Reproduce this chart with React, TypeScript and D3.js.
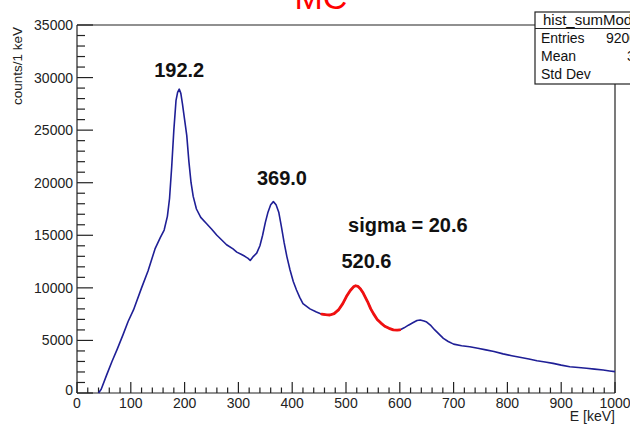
import React from "react";
import * as d3 from "d3";

// Spectrum (E [keV], counts per 1 keV)
const spectrumE = [40,45,55,65,75,86,95,105,120,132,145,155,162,168,172,176,180,184,187,190,193,196,200,204,208,212,216,222,230,241,250,260,270,278,290,297,305,312,318,322,328,334,340,345,350,355,360,365,370,375,380,385,390,396,402,408,414,420,433,445,455,462,470,478,486,494,501,508,514,518,522,527,532,540,546,551,558,565,572,580,588,595,600,608,616,625,632,638,645,650,658,665,673,681,690,700,715,730,745,760,775,792,808,823,840,855,870,885,900,916,932,947,962,978,990,1000];
const spectrumCounts = [0,350,1700,3000,4200,5600,6800,7900,10000,11600,13700,14800,15500,16800,18500,21500,25000,27800,28600,28900,28500,27500,26000,24500,22000,20000,18700,17500,16700,16100,15600,15000,14500,14100,13700,13400,13200,13000,12800,12600,13000,13300,14000,15000,16200,17200,17900,18200,17900,17200,15800,14300,13000,11700,10600,9800,9100,8500,8000,7700,7500,7450,7420,7550,7900,8500,9200,9750,10100,10200,10150,9900,9500,8700,8000,7550,7000,6650,6350,6150,6000,5980,6000,6200,6450,6700,6900,6950,6850,6750,6400,6000,5600,5200,4900,4650,4500,4400,4250,4100,3950,3720,3550,3400,3230,3070,2950,2820,2650,2500,2420,2350,2270,2190,2100,2030];

// Fit curve over the 520.6 keV peak
const fitE = [455,462,470,478,486,494,501,508,514,518,522,527,532,540,546,551,558,565,572,580,588,595,600];
const fitCounts = [7500,7450,7420,7550,7900,8500,9200,9750,10100,10200,10150,9900,9500,8700,8000,7550,7000,6650,6350,6150,6000,5980,6000];

// Peak annotations (text, anchor position in data units)
const annotText = ["192.2", "369.0", "sigma = 20.6", "520.6"];
const annotE = [190, 381, 615, 538];
const annotCounts = [30050, 19750, 15300, 11900];

const xTicks = [0,100,200,300,400,500,600,700,800,900,1000];
const yTicks = [0,5000,10000,15000,20000,25000,30000,35000];

const statLabels = ["Entries", "Mean", "Std Dev"];
const statValues = ["9200000", "345.7", ""];

export default function App() {
  const W = 630, H = 425;
  const x = d3.scaleLinear().domain([0, 1000]).range([77, 615]);
  const y = d3.scaleLinear().domain([0, 35000]).range([393, 25]);
  const specPts: [number, number][] = spectrumE.map((e, i) => [x(e), y(spectrumCounts[i])]);
  const fitPts: [number, number][] = fitE.map((e, i) => [x(e), y(fitCounts[i])]);
  const lg = d3.line();
  const specPath = lg(specPts) || "";
  const fitPath = lg(fitPts) || "";

  const minorX = d3.range(0, 1001, 20).filter((v) => v % 100 !== 0);
  const minorY = d3.range(0, 35001, 1000).filter((v) => v % 5000 !== 0);
  const font = "'Liberation Sans', Arial, sans-serif";
  const x0 = x(0), y0 = y(0), x1 = x(1000), yTop = y(35000);

  return (
    <svg width={W} height={H} style={{ position: "absolute", left: 0, top: 0, background: "#fff" }} fontFamily={font}>
      <rect x={0} y={0} width={W} height={H} fill="#fff" />
      {/* title */}
      <text x={321} y={9} fill="#ff0000" fontSize={34} textAnchor="middle">MC</text>

      {/* frame */}
      <g stroke="#222" strokeWidth={1.2} fill="none">
        <line x1={x0} y1={yTop} x2={x0} y2={y0} />
        <line x1={x0} y1={y0} x2={x1} y2={y0} />
        <line x1={x0} y1={yTop} x2={536} y2={yTop} />
        <line x1={x1} y1={84} x2={x1} y2={y0} />
      </g>

      {/* ticks */}
      <g stroke="#222" strokeWidth={1.2}>
        {yTicks.map((t) => (
          <line key={"ym" + t} x1={x0} x2={x0 + 16} y1={y(t)} y2={y(t)} />
        ))}
        {minorY.map((t) => (
          <line key={"yn" + t} x1={x0} x2={x0 + 8} y1={y(t)} y2={y(t)} />
        ))}
        {xTicks.map((t) => (
          <line key={"xm" + t} x1={x(t)} x2={x(t)} y1={y0} y2={y0 - 11} />
        ))}
        {minorX.map((t) => (
          <line key={"xn" + t} x1={x(t)} x2={x(t)} y1={y0} y2={y0 - 5.5} />
        ))}
      </g>

      {/* tick labels */}
      <g fontSize={14} fill="#222">
        {yTicks.map((t) => (
          <text key={"yl" + t} x={x0 - 4} y={t === 0 ? y(t) + 2 : y(t) + 5} textAnchor="end">{t}</text>
        ))}
        {xTicks.map((t) => (
          <text key={"xl" + t} x={x(t)} y={y0 + 15} textAnchor="middle">{t}</text>
        ))}
        <text x={x1} y={421} textAnchor="end">E [keV]</text>
        <text transform={`translate(22,${yTop + 2}) rotate(-90)`} textAnchor="end" fontSize={13.5}>counts/1 keV</text>
      </g>

      {/* spectrum */}
      <path d={specPath} fill="none" stroke="#1f1f96" strokeWidth={1.6} strokeLinejoin="round" />
      <path d={fitPath} fill="none" stroke="#f01010" strokeWidth={2.8} strokeLinejoin="round" strokeLinecap="round" />

      {/* annotations */}
      <g fontSize={20} fontWeight="bold" fill="#111">
        {annotText.map((t, i) => (
          <text key={t} x={x(annotE[i])} y={y(annotCounts[i])} textAnchor="middle">{t}</text>
        ))}
      </g>

      {/* stat box */}
      <g fontSize={14} fill="#111">
        <rect x={535} y={12} width={110} height={72} fill="#fff" stroke="#222" strokeWidth={1.2} />
        <line x1={535} x2={645} y1={28.5} y2={28.5} stroke="#222" strokeWidth={1.2} />
        <text x={543} y={25} fontSize={15}>hist_sumMod</text>
        {statLabels.map((l, i) => (
          <text key={l} x={541} y={43 + i * 18}>{l}</text>
        ))}
        {statValues.map((v, i) => (
          <text key={"v" + i} x={i === 0 ? 606 : 627} y={43 + i * 18}>{v}</text>
        ))}
      </g>
    </svg>
  );
}
